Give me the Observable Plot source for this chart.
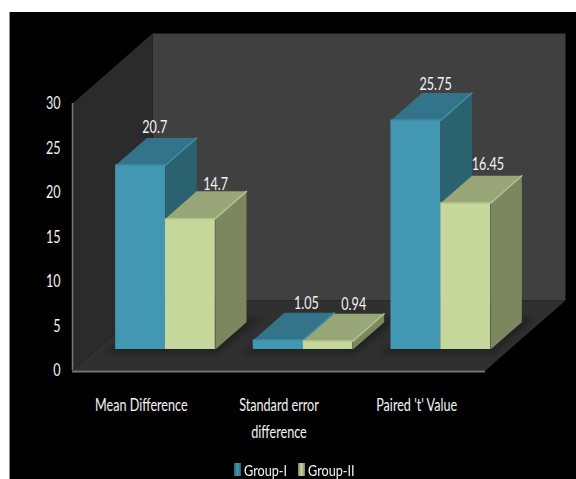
<!DOCTYPE html>
<html>
<head>
<meta charset="utf-8">
<script src="https://cdn.jsdelivr.net/npm/d3@7"></script>
<script src="https://cdn.jsdelivr.net/npm/@observablehq/plot@0.6"></script>
<style>
  html, body { margin: 0; padding: 0; background: #fff; }
  #panel { position: absolute; left: 10px; top: 12px; width: 566px; height: 467px; background: #000; overflow: hidden; box-shadow: -1px 0 0 #8a8a8a; }
  #panel svg { display: block; font-family: Lato, sans-serif; }
  .key { position: absolute; top: 450px; height: 15px; color: #f4f4f4; font: 16px/15px Lato, sans-serif; white-space: nowrap; }
  .key i { position: absolute; left: 0; top: 1px; width: 7px; height: 13px; }
  .key span { position: absolute; left: 10px; top: 0; transform: scaleX(0.79); transform-origin: left center; }
</style>
</head>
<body>
<div id="panel"></div>
<script>
const categories = ["Mean Difference", "Standard error\ndifference", "Paired 't' Value"];
const groups = ["Group-I", "Group-II"];
const groupOne = [20.7, 1.05, 25.75];
const groupTwo = [14.7, 0.94, 16.45];
const yTicks = [0, 5, 10, 15, 20, 25, 30];

const frontColors = ["#4298b3", "#c6d79b"];
const sideColors = ["#2b6270", "#7c8760"];
const topColors = ["#33748a", "#98a678"];
const edgeColors = ["#3f8fa8", "#b4c48c"];

// Oblique projection: depth 0..1 shears a point right and up in data units.
const shearX = 0.581, shearY = 7.87;
const project = (x, y, d) => ({x: x + shearX * d, y: y + shearY * d});

// Bars sit part way into the floor; each is this wide and deep.
const barWidth = 0.362, barNear = 0.3, barFar = 0.69, groupStart = 0.139;

const faces = [];
const face = (id, fill, pts) => pts.forEach(([x, y, d]) => faces.push({id, fill, ...project(x, y, d)}));

const walls = [];
const wall = (id, fill, pts) => pts.forEach(([x, y, d]) => walls.push({id, fill, ...project(x, y, d)}));
wall("back", "#404040", [[0, 0, 1], [3, 0, 1], [3, 30, 1], [0, 30, 1]]);
wall("side", "#2b2b2b", [[0, 0, 0], [0, 0, 1], [0, 30, 1], [0, 30, 0]]);
wall("floor", "#303030", [[0, 0, 0], [3, 0, 0], [3, 0, 1], [0, 0, 1]]);

const shadows = [];
const labels = [];
const bevels = [];
// Per-label placement corrections in pixels: [dx, dy].
const labelNudge = [[-17, -11], [-6, -7], [-3, -10], [-5.5, -10], [-11.5, -9], [-9, -12]];

categories.forEach((_, c) => {
  [groupOne, groupTwo].forEach((series, g) => {
    const v = series[c];
    const x0 = c + groupStart + g * barWidth, x1 = x0 + barWidth;
    const key = `${c}-${g}`;
    face(`side-${key}`, sideColors[g], [[x1, 0, barNear], [x1, 0, barFar], [x1, v, barFar], [x1, v, barNear]]);
    face(`top-${key}`, topColors[g], [[x0, v, barNear], [x1, v, barNear], [x1, v, barFar], [x0, v, barFar]]);
    labels.push({...project((x0 + x1) / 2, v, barFar), text: String(v), nudge: labelNudge[c * 2 + g]});
    [[x0, v, barNear], [x1, v, barNear], [x1, v, barFar]].forEach(([x, y, d]) =>
      bevels.push({id: key, g, stroke: edgeColors[g], ...project(x, y, d)}));
    if (g === 0) {
      const end = x0 + 2 * barWidth;
      const pad = 0.05;
      [[x0 - pad, 0, barNear - 0.06], [end + pad, 0, barNear - 0.06], [end + pad + 0.02, 0, barFar + 0.06], [x0, 0, barFar + 0.06]]
        .forEach(([x, y, d]) => shadows.push({id: c, ...project(x, y, d)}));
    }
  });
});

const fronts = categories.flatMap((_, c) => [groupOne, groupTwo].map((series, g) => {
  const base = project(c + groupStart + g * barWidth, 0, barNear);
  return {x1: base.x, x2: base.x + barWidth, y1: base.y, y2: base.y + series[c], fill: frontColors[g]};
}));

const plot = Plot.plot({
  width: 566,
  height: 467,
  marginLeft: 62,
  marginRight: 91,
  marginTop: 91,
  marginBottom: 109,
  style: {background: "transparent", color: "#fff"},
  x: {type: "linear", domain: [0, 3], axis: null},
  y: {domain: [0, 30], axis: null},
  marks: [
    Plot.line(walls, {x: "x", y: "y", z: "id", fill: "fill", stroke: "none"}),
    Plot.line(shadows, {x: "x", y: "y", z: "id", fill: "#222", stroke: "none", imageFilter: "blur(3px)"}),
    Plot.ruleX([0], {y1: 0, y2: 30, stroke: "#777", strokeWidth: 1.5}),
    Plot.ruleY([-0.12], {x1: 0, x2: 3, stroke: "#777", strokeWidth: 2}),
    Plot.line(faces.filter(f => f.id.endsWith("-0")), {x: "x", y: "y", z: "id", fill: "fill", stroke: "none"}),
    Plot.rect(fronts.filter((_, i) => i % 2 === 0), {x1: "x1", x2: "x2", y1: "y1", y2: "y2", fill: "fill"}),
    Plot.line(bevels.filter(b => b.g === 0), {x: "x", y: "y", z: "id", stroke: "stroke", strokeWidth: 1.5}),
    Plot.line(faces.filter(f => f.id.endsWith("-1")), {x: "x", y: "y", z: "id", fill: "fill", stroke: "none"}),
    Plot.rect(fronts.filter((_, i) => i % 2 === 1), {x1: "x1", x2: "x2", y1: "y1", y2: "y2", fill: "fill"}),
    Plot.line(bevels.filter(b => b.g === 1), {x: "x", y: "y", z: "id", stroke: "stroke", strokeWidth: 1.5}),
    labels.map(l => Plot.text([l], {
      x: "x", y: "y", text: "text", fill: "#f4f4f4", fontSize: 18,
      dx: l.nudge[0], dy: l.nudge[1]
    })),
    Plot.axisY({ticks: yTicks, tickSize: 0, tickPadding: 12, fontSize: 18, label: null, fill: "#f4f4f4"}),
    Plot.axisX({
      ticks: [0.5, 1.5, 2.5], tickFormat: i => categories[Math.floor(i)],
      tickSize: 0, tickPadding: 21, lineHeight: 1.5, fontSize: 18, label: null, fill: "#f4f4f4"
    })
  ]
});
const panel = document.getElementById("panel");
panel.appendChild(plot);

// The chart's type is a narrow face: squeeze each run of text horizontally.
const squeeze = 0.7;
plot.querySelectorAll("text").forEach(node => {
  const runs = node.querySelectorAll("tspan");
  (runs.length ? [...runs] : [node]).forEach(run => {
    run.setAttribute("textLength", run.getComputedTextLength() * squeeze);
    run.setAttribute("lengthAdjust", "spacingAndGlyphs");
  });
});

// Legend row under the plot frame.
const keyLeft = [224, 288];
groups.forEach((name, g) => {
  const key = document.createElement("div");
  key.className = "key";
  key.style.left = keyLeft[g] + "px";
  const swatch = document.createElement("i");
  swatch.style.background = `linear-gradient(90deg, ${sideColors[g]}, ${frontColors[g]}, ${sideColors[g]})`;
  const text = document.createElement("span");
  text.textContent = name;
  key.append(swatch, text);
  panel.appendChild(key);
});
</script>
</body>
</html>
